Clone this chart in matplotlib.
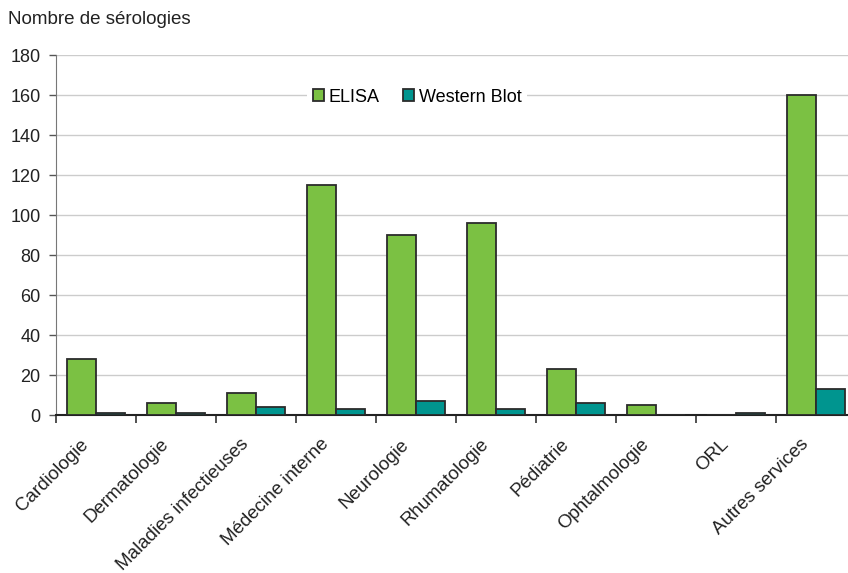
import numpy as np
import matplotlib.pyplot as plt
from matplotlib.patches import Patch
from matplotlib.transforms import ScaledTranslation

plt.rcParams['font.family'] = ['Liberation Sans', 'DejaVu Sans']

# Sérologies par service
services = ['Cardiologie', 'Dermatologie', 'Maladies infectieuses', 'Médecine interne',
            'Neurologie', 'Rhumatologie', 'Pédiatrie', 'Ophtalmologie', 'ORL',
            'Autres services']
elisa = [28, 6, 11, 115, 90, 96, 23, 5, 0, 160]
western_blot = [1, 1, 4, 3, 7, 3, 6, 0, 1, 13]

vert = '#7bc143'
turquoise = '#00958f'
bord = '#2b2b2b'

fig = plt.figure(figsize=(8.48, 5.73), dpi=100)
W, H = 848, 573
ax = fig.add_axes([56 / W, (H - 415) / H, 800 / W, 360 / H])

x = np.arange(len(services)) + 0.5
largeur = 0.36
ax.bar(x - largeur / 2, elisa, largeur, color=vert, edgecolor=bord, linewidth=1.3, zorder=3)
ax.bar(x + largeur / 2, western_blot, largeur, color=turquoise, edgecolor=bord, linewidth=1.3, zorder=3)

ax.set_xlim(0, len(services))
ax.set_ylim(0, 180)
ax.set_yticks(np.arange(0, 181, 20))
ax.yaxis.grid(True, color='#cccccc', linewidth=1, zorder=0)
ax.set_axisbelow(True)

# graduations aux limites des catégories, libellés au centre
ax.set_xticks(np.arange(len(services) + 1))
ax.set_xticklabels([])
ax.set_xticks(x, minor=True)
ax.set_xticklabels(services, minor=True, rotation=45, ha='right', va='top',
                   rotation_mode='anchor', fontsize=13.5, color='#222222')
ax.tick_params(axis='x', which='minor', length=0, pad=15)
ax.tick_params(axis='x', which='major', length=6, width=1.2, color='#333333')
ax.tick_params(axis='y', length=5, width=1, color='#555555', labelsize=13,
               labelcolor='#222222', pad=6)
decalage = ScaledTranslation(-16 / 100, 0, fig.dpi_scale_trans)
for lab in ax.get_xticklabels(minor=True):
    lab.set_transform(lab.get_transform() + decalage)

for side in ['top', 'right']:
    ax.spines[side].set_visible(False)
ax.spines['left'].set_color('#777777')
ax.spines['bottom'].set_color('#222222')
ax.spines['bottom'].set_linewidth(1.5)

fig.text(8 / W, 1 - 20 / H, 'Nombre de sérologies', fontsize=13.5, color='#222222',
         va='center', ha='left')

poignees = [Patch(facecolor=vert, edgecolor=bord, linewidth=1.3, label='ELISA'),
            Patch(facecolor=turquoise, edgecolor=bord, linewidth=1.3, label='Western Blot')]
leg = ax.legend(handles=poignees, loc='center', bbox_to_anchor=((417 - 56) / 800, (415 - 97) / 360),
                ncol=2, frameon=True, fontsize=13, handlelength=0.62, handleheight=0.62,
                handletextpad=0.25, columnspacing=1.3, borderpad=0.3, fancybox=False)
leg.get_frame().set_facecolor('white')
leg.get_frame().set_edgecolor('none')
leg.get_frame().set_alpha(1)

fig.savefig('out.png', dpi=100)
